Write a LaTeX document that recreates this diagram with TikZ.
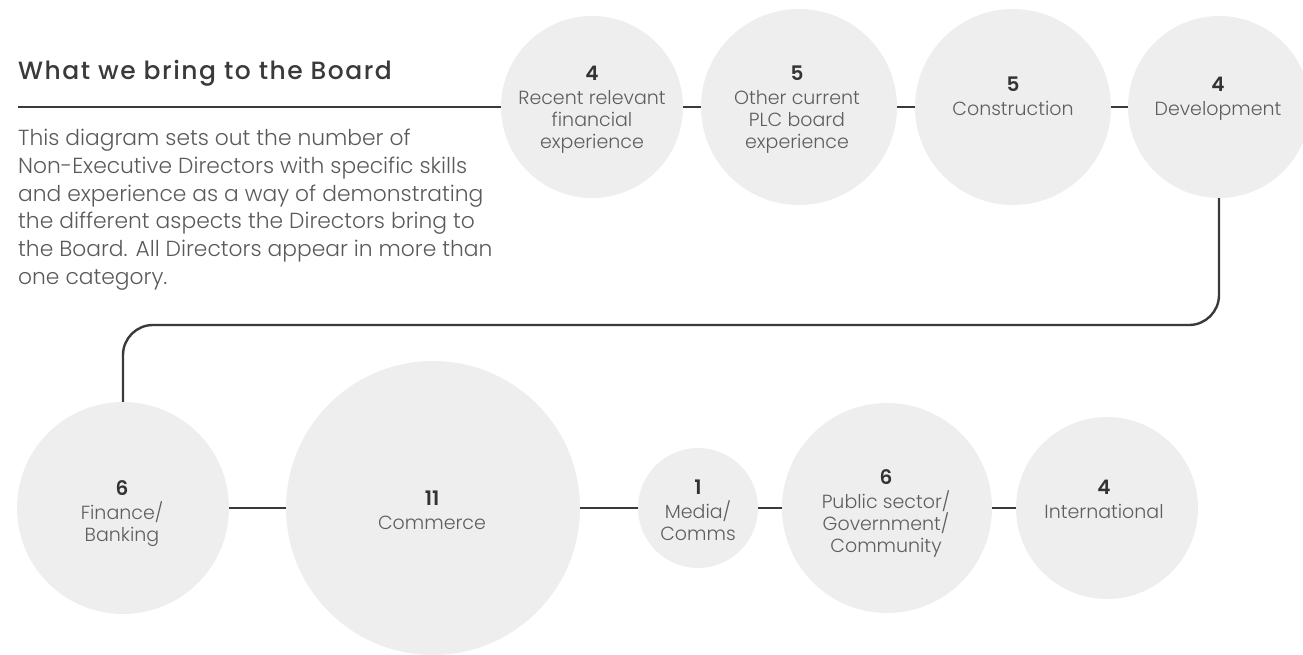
\documentclass[tikz,border=0pt]{standalone}
\usepackage{fontspec}
\setmainfont{Poppins}[UprightFont=* Light, BoldFont=* SemiBold]
\newfontfamily\titlefont{Poppins Medium}[LetterSpace=6]
\definecolor{bubfill}{HTML}{EEEEEE}
\definecolor{linecol}{HTML}{3A3A3A}
\definecolor{labcol}{HTML}{5E5E5E}
\definecolor{numcol}{HTML}{333333}
\definecolor{titlecol}{HTML}{3A3A3A}
\definecolor{bodycol}{HTML}{5A5A5A}
\newcommand\bnum[1]{{\color{numcol}\bfseries\fontsize{20}{22}\selectfont #1}}
\begin{document}
\begin{tikzpicture}[x=1pt,y=-1pt,
  bub/.style={circle, fill=bubfill, draw=none, inner sep=0pt, minimum size=#1},
  conn/.style={draw=linecol, line width=2.4pt},
  ctext/.style={anchor=north, align=center, inner sep=0pt, font=\fontsize{19}{22}\selectfont, text=labcol},
]
\useasboundingbox (0,0) rectangle (1303,655);
% header
\node[anchor=base west, inner sep=0pt, font=\titlefont\fontsize{25}{28}\selectfont, text=titlecol] (title) at (18,80) {What we bring to the Board};
\node[anchor=north west, inner sep=0pt, align=left, font=\fontsize{21.8}{27.7}\selectfont, text=bodycol] (body) at (18,129)
 {This diagram sets out the number of\\
  Non-Executive Directors with specific skills\\
  and experience as a way of demonstrating\\
  the different aspects the Directors bring to\\
  the Board. All Directors appear in more than\\
  one category.};
\coordinate (start) at (18,107);
% bubbles top row
\node[bub=182] (c1) at (592,107) {};
\node[bub=196] (c2) at (799,107) {};
\node[bub=196] (c3) at (1013,107) {};
\node[bub=182] (c4) at (1219,107) {};
% bubbles bottom row
\node[bub=212] (fin) at (123,508) {};
\node[bub=294] (com) at (433,508) {};
\node[bub=120] (med) at (698,508) {};
\node[bub=210] (pub) at (887,508) {};
\node[bub=182] (int) at (1107,508) {};
% connectors
\draw[conn] (start) -- (c1.west);
\draw[conn] (c1.east) -- (c2.west);
\draw[conn] (c2.east) -- (c3.west);
\draw[conn] (c3.east) -- (c4.west);
\draw[conn, rounded corners=30pt] (c4.south) -- (c4.south |- 0,325) -- (fin.north |- 0,325) -- (fin.north);
\draw[conn] (fin.east) -- (com.west);
\draw[conn] (com.east) -- (med.west);
\draw[conn] (med.east) -- (pub.west);
\draw[conn] (pub.east) -- (int.west);
% texts
\node[ctext] (t1) at (592,66) {\bnum{4}\\[2pt] Recent relevant\\ financial\\ experience};
\node[ctext] (t2) at (797,66) {\bnum{5}\\[2pt] Other current\\ PLC board\\ experience};
\node[ctext] (t3) at (1013,77) {\bnum{5}\\[2pt] Construction};
\node[ctext] (t4) at (1218,77) {\bnum{4}\\[2pt] Development};
\node[ctext] (t5) at (122,480) {\bnum{6}\\[2pt] Finance/\\ Banking};
\node[ctext] (t6) at (432,491) {\bnum{11}\\[2pt] Commerce};
\node[ctext] (t7) at (698,480) {\bnum{1}\\[2pt] Media/\\ Comms};
\node[ctext] (t8) at (886,469) {\bnum{6}\\[2pt] Public sector/\\ Government/\\ Community};
\node[ctext] (t9) at (1104,480) {\bnum{4}\\[2pt] International};
\end{tikzpicture}
\end{document}
